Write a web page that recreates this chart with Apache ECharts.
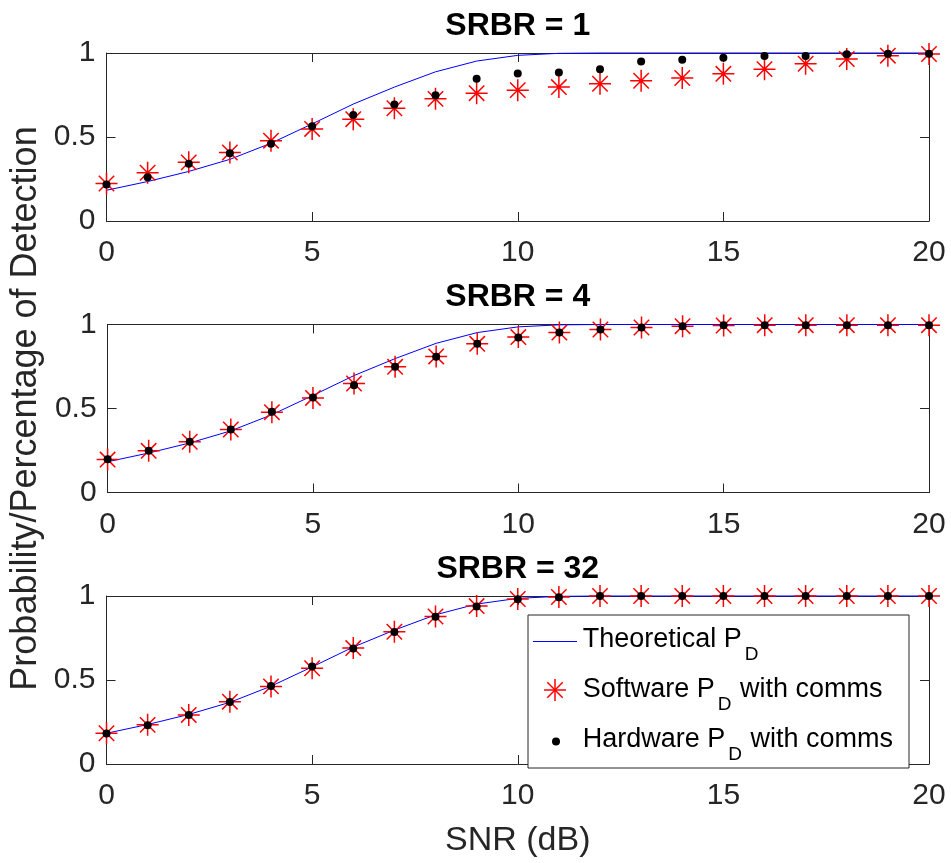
<!DOCTYPE html>
<html>
<head>
<meta charset="utf-8">
<script src="https://cdn.jsdelivr.net/npm/echarts@6/dist/echarts.min.js"></script>
<style>
html,body{margin:0;padding:0;background:#fff;}
#chart{width:951px;height:863px;}
</style>
</head>
<body>
<div id="chart"></div>
<script>
// ---- data ----
const snr = [0,1,2,3,4,5,6,7,8,9,10,11,12,13,14,15,16,17,18,19,20];
const xTicks = [0,5,10,15,20];
const yTicks = [0,0.5,1];
const titles = ['SRBR = 1','SRBR = 4','SRBR = 32'];

const theoretical = [0.183,0.235,0.295,0.367,0.463,0.578,0.696,0.797,0.888,0.952,0.986,0.998,1,1,1,1,1,1,1,1,1];

const software1 = [0.223,0.287,0.349,0.408,0.478,0.548,0.606,0.671,0.727,0.761,0.779,0.797,0.817,0.835,0.851,0.876,0.904,0.936,0.964,0.984,0.994];
const hardware1 = [0.217,0.261,0.341,0.404,0.460,0.564,0.631,0.693,0.749,0.847,0.878,0.884,0.904,0.950,0.960,0.972,0.982,0.982,0.992,0.996,0.996];

const software4 = [0.196,0.248,0.302,0.375,0.478,0.563,0.649,0.748,0.810,0.885,0.925,0.952,0.970,0.982,0.990,0.994,0.996,0.996,0.996,0.996,0.996];
const hardware4 = [0.198,0.248,0.302,0.375,0.480,0.565,0.639,0.748,0.808,0.885,0.922,0.952,0.970,0.982,0.990,0.996,0.996,0.996,0.996,0.996,0.996];

const software32 = [0.183,0.233,0.292,0.371,0.462,0.570,0.690,0.787,0.878,0.940,0.982,0.994,1,1,1,1,1,1,1,1,1];
const hardware32 = [0.181,0.231,0.292,0.369,0.464,0.580,0.688,0.785,0.876,0.937,0.980,0.992,1,1,1,1,1,1,1,1,1];

const softwareSets = [software1, software4, software32];
const hardwareSets = [hardware1, hardware4, hardware32];
const seriesNames = ['Theoretical P_D', 'Software P_D with comms', 'Hardware P_D with comms'];
// legend text pieces: [main, subscript, tail]
const legendTexts = [['Theoretical P','D',''], ['Software P','D',' with comms'], ['Hardware P','D',' with comms']];

// ---- styling ----
const FONT = "'Liberation Sans', Arial, Helvetica, sans-serif";
const AX = '#262626';
const STAR = 'path://M0,10L20,10M10,0L10,20M3,3L17,17M17,3L3,17';
const gridTops = [53, 324.5, 596];
const gridH = 168;
const gridLeft = 106.5, gridRight = 22;

const pairs = (arr) => snr.map((x, j) => [x, arr[j]]);

const grids = [], xAxes = [], yAxes = [], series = [];
gridTops.forEach((t, i) => {
  grids.push({left: gridLeft, right: gridRight, top: t, height: gridH, containLabel: false});
  const tick = {show: true, inside: true, length: 9, lineStyle: {color: AX, width: 1}};
  const line = {show: true, onZero: false, lineStyle: {color: AX, width: 1}};
  xAxes.push({
    gridIndex: i, type: 'value', position: 'bottom', min: 0, max: 20, interval: 5,
    axisLine: line, axisTick: tick, splitLine: {show: false},
    axisLabel: {margin: 17, fontSize: 30, color: AX, fontFamily: FONT,
      formatter: v => xTicks.includes(v) ? String(v) : ''},
    name: i === 2 ? 'SNR (dB)' : '', nameLocation: 'middle', nameGap: 60,
    nameTextStyle: {fontSize: 34, color: AX, fontFamily: FONT}
  });
  xAxes.push({
    gridIndex: i, type: 'value', position: 'top', min: 0, max: 20, interval: 5,
    axisLine: line, axisTick: tick, splitLine: {show: false}, axisLabel: {show: false}
  });
  yAxes.push({
    gridIndex: i, type: 'value', position: 'left', min: 0, max: 1, interval: 0.5,
    axisLine: line, axisTick: tick, splitLine: {show: false},
    axisLabel: {margin: 11, fontSize: 30, color: AX, fontFamily: FONT,
      formatter: v => yTicks.includes(v) ? String(v) : ''},
    name: i === 1 ? 'Probability/Percentage of Detection' : '', nameLocation: 'middle', nameGap: 59,
    nameTextStyle: {fontSize: 36, color: AX, fontFamily: FONT}
  });
  yAxes.push({
    gridIndex: i, type: 'value', position: 'right', min: 0, max: 1, interval: 0.5,
    axisLine: line, axisTick: tick, splitLine: {show: false}, axisLabel: {show: false}
  });
  series.push({
    name: seriesNames[0], type: 'line', xAxisIndex: 2*i, yAxisIndex: 2*i,
    data: pairs(theoretical), symbol: 'none', clip: false, z: 2,
    lineStyle: {color: '#0000ff', width: 1}, itemStyle: {color: '#0000ff'}
  });
  series.push({
    name: seriesNames[1], type: 'scatter', xAxisIndex: 2*i, yAxisIndex: 2*i,
    data: pairs(softwareSets[i]), symbol: STAR, symbolSize: 22, symbolKeepAspect: true, clip: false, z: 3,
    itemStyle: {color: 'rgba(0,0,0,0)', borderColor: '#ff0000', borderWidth: 1.5, opacity: 1}
  });
  series.push({
    name: seriesNames[2], type: 'scatter', xAxisIndex: 2*i, yAxisIndex: 2*i,
    data: pairs(hardwareSets[i]), symbol: 'circle', symbolSize: 8, clip: false, z: 4,
    itemStyle: {color: '#000000', opacity: 1}
  });
});

const plotCenterX = gridLeft + (951 - gridLeft - gridRight) / 2;
const titleTops = [10, 281, 553];

// ---- legend (drawn as graphic elements) ----
const ctx = document.createElement('canvas').getContext('2d');
const measure = (txt, size) => { ctx.font = size + "px 'Liberation Sans'"; return ctx.measureText(txt).width; };
const LEG = {x: 528, y: 615, w: 381, h: 153, textX: 582.7, rows: [640, 689.5, 739.5], fs: 27, sfs: 19, subDy: 15, subDx: 3};
const legendGraphic = [
  {type: 'rect', z: 5, shape: {x: LEG.x, y: LEG.y, width: LEG.w, height: LEG.h},
   style: {fill: '#fff', stroke: AX, lineWidth: 1}},
  {type: 'line', z: 7, shape: {x1: 533, y1: 641.5, x2: 577, y2: 641.5},
   style: {stroke: '#0000ff', lineWidth: 1.2}},
  {type: 'circle', z: 7, shape: {cx: 556, cy: 741.5, r: 4}, style: {fill: '#000'}}
];
const sx = 555, sy = 690, sr = 11, sd = 7.7;
[[-sr,0,sr,0],[0,-sr,0,sr],[-sd,-sd,sd,sd],[sd,-sd,-sd,sd]].forEach(s => legendGraphic.push({
  type: 'line', z: 7,
  shape: {x1: sx + s[0], y1: sy + s[1], x2: sx + s[2], y2: sy + s[3]},
  style: {stroke: '#ff0000', lineWidth: 1.5}
}));
legendTexts.forEach((parts, r) => {
  const y = LEG.rows[r];
  const w0 = measure(parts[0], LEG.fs);
  const w1 = measure(parts[1], LEG.sfs);
  const fontMain = {fontSize: LEG.fs, fontFamily: FONT, fill: '#000', verticalAlign: 'middle', align: 'left'};
  legendGraphic.push({type: 'text', z: 7, x: LEG.textX, y: y, style: Object.assign({text: parts[0]}, fontMain)});
  legendGraphic.push({type: 'text', z: 7, x: LEG.textX + w0 + LEG.subDx, y: y + LEG.subDy,
    style: {text: parts[1], fontSize: LEG.sfs, fontFamily: FONT, fill: '#000', verticalAlign: 'middle', align: 'left'}});
  if (parts[2]) {
    legendGraphic.push({type: 'text', z: 7, x: LEG.textX + w0 + LEG.subDx + w1 + 1, y: y,
      style: Object.assign({text: parts[2]}, fontMain)});
  }
});

const option = {
  backgroundColor: '#ffffff',
  animation: false,
  title: titles.map((txt, i) => ({
    text: txt, left: plotCenterX, top: titleTops[i], textAlign: 'center', padding: 0,
    textStyle: {fontSize: 32, fontWeight: 'bold', color: '#000', fontFamily: FONT}
  })),
  grid: grids,
  xAxis: xAxes,
  yAxis: yAxes,
  graphic: legendGraphic,
  series: series
};

const chart = echarts.init(document.getElementById('chart'), null, {renderer: 'canvas'});
chart.setOption(option);
</script>
</body>
</html>
